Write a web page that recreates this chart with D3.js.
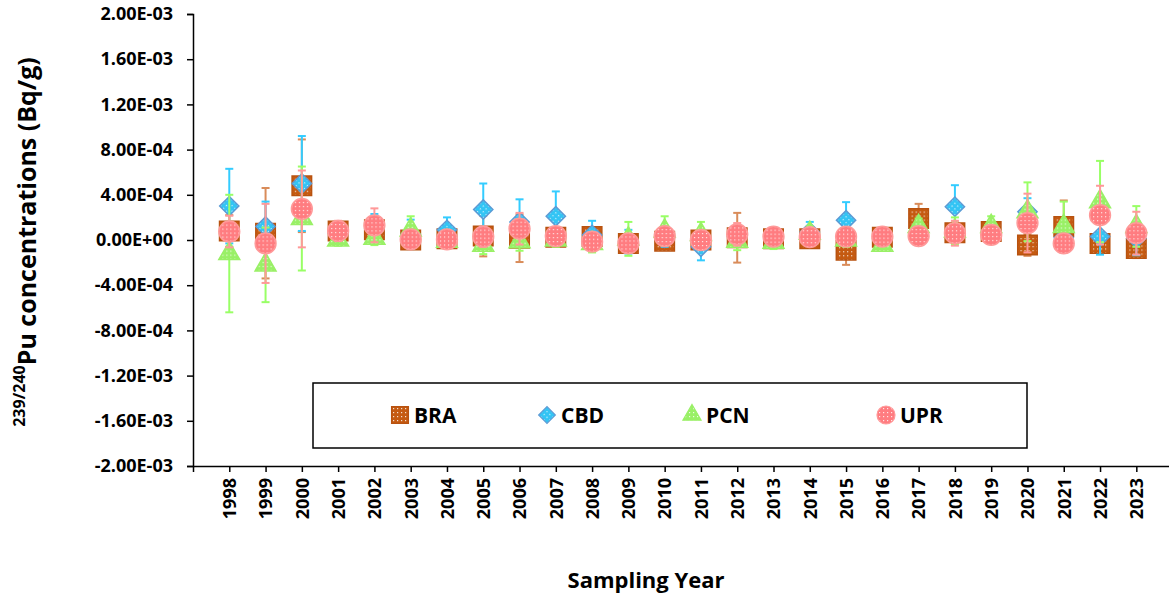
<!DOCTYPE html>
<html>
<head>
<meta charset="utf-8">
<script src="https://cdn.jsdelivr.net/npm/d3@7"></script>
<style>
  body { margin: 0; background: #fff; }
  svg { display: block; }
  text { font-family: "Open Sans", sans-serif; font-weight: bold; fill: #000; }
</style>
</head>
<body>
<div id="chart"></div>
<script>
// sampling years
var years = d3.range(1998, 2024)

// values and errors, Bq/g
var braVal = [0.8, 0.6, 4.8, 0.8, 0.9, 0.0, 0.1, 0.35, 0.15, 0.25, 0.3, -0.3, -0.1, 0.0, 0.2, 0.1, 0.1, -0.9, 0.25, 1.9, 0.65, 0.75, -0.45, 1.2, -0.3, -0.75].map(v => v * 1e-4)
var braErr = [1.4, 4.0, 4.1, 0.5, 1.0, 0.6, 0.6, 1.8, 2.1, 0.8, 0.8, 0.8, 0.6, 0.8, 2.2, 0.6, 0.6, 1.3, 0.5, 1.3, 0.9, 0.6, 0.95, 2.3, 0.7, 0.85].map(v => v * 1e-4)
var cbdVal = [3.0, 1.2, 5.0, 0.6, 1.0, 0.5, 0.9, 2.7, 1.6, 2.1, 0.45, -0.15, 0.2, -0.6, 0.3, 0.2, 0.7, 1.75, 0.1, 0.3, 2.95, 0.5, 2.5, 0.2, 0.3, 0.15].map(v => v * 1e-4)
var cbdErr = [3.3, 2.2, 4.2, 0.6, 1.3, 1.3, 1.1, 2.3, 2.0, 2.2, 1.25, 1.05, 0.8, 1.2, 0.8, 0.6, 0.9, 1.6, 0.6, 0.6, 1.9, 0.6, 1.2, 0.8, 1.6, 1.5].map(v => v * 1e-4)
var pcnVal = [-1.2, -2.2, 1.9, 0.0, 0.15, 0.9, -0.1, -0.45, -0.15, 0.0, -0.3, 0.1, 0.8, 0.5, -0.1, -0.2, 0.6, 0.0, -0.45, 1.2, 0.8, 1.2, 2.5, 1.2, 3.4, 1.2].map(v => v * 1e-4)
var pcnErr = [5.2, 3.3, 4.6, 0.5, 0.6, 1.2, 0.6, 0.8, 0.8, 0.6, 0.8, 1.5, 1.3, 1.1, 0.8, 0.6, 0.6, 0.6, 0.5, 0.7, 1.2, 0.9, 2.6, 2.2, 3.6, 1.8].map(v => v * 1e-4)
var uprVal = [0.75, -0.3, 2.75, 0.8, 1.3, 0.05, 0.05, 0.3, 1.0, 0.35, -0.15, -0.3, 0.35, 0.0, 0.5, 0.3, 0.25, 0.3, 0.3, 0.35, 0.6, 0.45, 1.5, -0.3, 2.2, 0.6].map(v => v * 1e-4)
var uprErr = [1.4, 3.5, 3.4, 0.9, 1.5, 0.6, 0.6, 0.9, 1.4, 0.7, 0.7, 0.7, 0.8, 0.7, 1.0, 0.7, 0.6, 0.7, 0.6, 0.6, 1.1, 0.8, 2.6, 0.8, 2.6, 1.9].map(v => v * 1e-4)

var yTicks = d3.range(-20e-4, 20.1e-4, 4e-4)

var width = 1169, height = 597

var svg = d3.select("#chart").append("svg")
  .attr("width", width)
  .attr("height", height)

var x = d3.scaleLinear().domain([1997, 2024]).range([193, 1172.6])
var y = d3.scaleLinear().domain([-20e-4, 20e-4]).range([466, 14])

// hatch patterns for marker fills
var defs = svg.append("defs")
function makePattern(id, bg) {
  var p = defs.append("pattern")
    .attr("id", id)
    .attr("patternUnits", "userSpaceOnUse")
    .attr("width", 4).attr("height", 4)
  p.append("rect").attr("width", 4).attr("height", 4).attr("fill", bg)
  p.append("rect").attr("x", 1).attr("y", 1).attr("width", 1.2).attr("height", 1.2).attr("fill", "#fff").attr("opacity", 0.8)
}
makePattern("patBRA", "#C55A11")
makePattern("patCBD", "#33C4F4")
makePattern("patPCN", "#99F066")
makePattern("patUPR", "#FF7C80")

var series = [
  { name: "BRA", vals: braVal, errs: braErr, shape: d3.symbolSquare, size: 380, rot: 0, fill: "url(#patBRA)", stroke: "#B8520F", err: "#D98C5A" },
  { name: "CBD", vals: cbdVal, errs: cbdErr, shape: d3.symbolSquare, size: 185, rot: 45, fill: "url(#patCBD)", stroke: "#5B9BD5", err: "#33CCFF" },
  { name: "PCN", vals: pcnVal, errs: pcnErr, shape: d3.symbolTriangle, size: 190, rot: 0, fill: "url(#patPCN)", stroke: "#99F066", err: "#99FF66" },
  { name: "UPR", vals: uprVal, errs: uprErr, shape: d3.symbolCircle, size: 340, rot: 0, fill: "url(#patUPR)", stroke: "#FF9999", err: "#FF9999" }
]

// Excel style scientific labels, plain hyphen for minus
function expLabel(d) {
  var s = d3.format(".2e")(Math.abs(d) < 1e-12 ? 0 : d).replace("\u2212", "-")
  var parts = s.split("e")
  var ex = +parts[1]
  return parts[0] + "E" + (ex < 0 ? "-" : "+") + String(Math.abs(ex)).padStart(2, "0")
}

// axes
var yAxis = svg.append("g")
  .attr("transform", "translate(193,0)")
  .call(d3.axisLeft(y).tickValues(yTicks).tickSize(6).tickPadding(14).tickFormat(expLabel))
yAxis.select(".domain").attr("stroke", "#000").attr("stroke-width", 1.5)
yAxis.selectAll(".tick line").attr("stroke", "#000").attr("stroke-width", 1.5)
yAxis.selectAll(".tick text").style("font-size", "18px").style("font-family", "'Open Sans', sans-serif").style("font-weight", "bold")

var xAxis = svg.append("g")
  .attr("transform", "translate(0,466)")
  .call(d3.axisBottom(x).tickValues([1997].concat(years)).tickSize(6).tickSizeOuter(0)
    .tickFormat(d => d === 1997 ? "" : d))
xAxis.select(".domain").attr("stroke", "#000").attr("stroke-width", 1.5)
xAxis.selectAll(".tick line").attr("stroke", "#000").attr("stroke-width", 1.5)
xAxis.selectAll(".tick text")
  .style("font-size", "18px").style("font-family", "'Open Sans', sans-serif").style("font-weight", "bold")
  .attr("transform", "rotate(-90)")
  .attr("text-anchor", "end")
  .attr("x", -12).attr("y", 0).attr("dy", "0.35em")

// error bars then markers, series by series
series.forEach(s => {
  var g = svg.append("g").attr("class", "series-" + s.name)
  years.forEach((yr, i) => {
    var cx = x(yr), v = s.vals[i], e = s.errs[i]
    g.append("line")
      .attr("x1", cx).attr("x2", cx)
      .attr("y1", y(v - e)).attr("y2", y(v + e))
      .attr("stroke", s.err).attr("stroke-width", 2)
    ;[v - e, v + e].forEach(c => {
      g.append("line")
        .attr("x1", cx - 4).attr("x2", cx + 4)
        .attr("y1", y(c)).attr("y2", y(c))
        .attr("stroke", s.err).attr("stroke-width", 2)
    })
  })
  g.selectAll("path.marker")
    .data(years)
    .enter().append("path")
    .attr("class", "marker")
    .attr("d", d3.symbol().type(s.shape).size(s.size))
    .attr("transform", (d, i) => "translate(" + x(d) + "," + y(s.vals[i]) + ") rotate(" + s.rot + ")")
    .attr("fill", s.fill)
    .attr("stroke", s.stroke)
    .attr("stroke-width", 1.5)
})

// legend
svg.append("rect")
  .attr("x", 313).attr("y", 383)
  .attr("width", 714).attr("height", 65)
  .attr("fill", "#fff").attr("stroke", "#000").attr("stroke-width", 1.5)

var legendX = [400, 547, 692, 886]
series.forEach((s, i) => {
  svg.append("path")
    .attr("d", d3.symbol().type(s.shape).size(s.size * 0.75))
    .attr("transform", "translate(" + legendX[i] + ",415) rotate(" + s.rot + ")")
    .attr("fill", s.fill).attr("stroke", s.stroke).attr("stroke-width", 1.2)
  svg.append("text")
    .attr("x", legendX[i] + 14).attr("y", 415).attr("dy", "0.36em")
    .style("font-size", "21px")
    .text(s.name)
})

// axis titles
var yt = svg.append("text")
  .attr("transform", "translate(36,242) rotate(-90)")
  .attr("text-anchor", "middle")
  .style("font-size", "25px")
yt.append("tspan").attr("baseline-shift", "super").style("font-size", "16px").text("239/240")
yt.append("tspan").text("Pu concentrations (Bq/g)")

svg.append("text")
  .attr("x", 646).attr("y", 588)
  .attr("text-anchor", "middle")
  .style("font-size", "22px")
  .text("Sampling Year")
</script>
</body>
</html>
